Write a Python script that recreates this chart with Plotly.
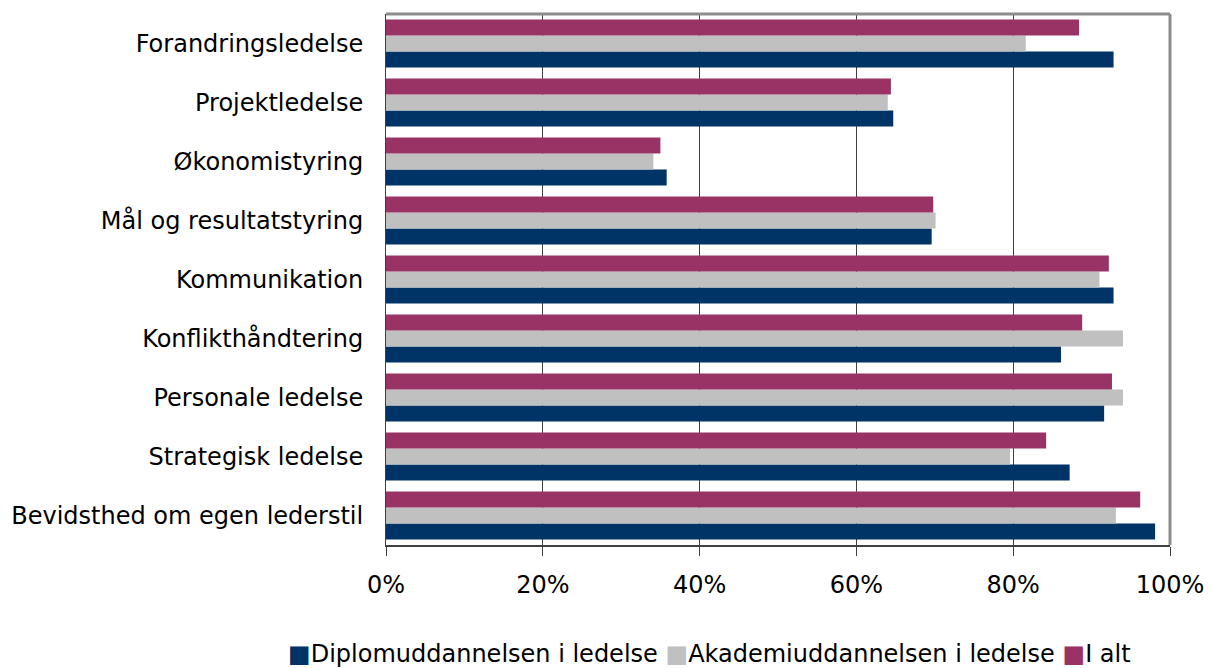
import plotly.graph_objects as go

# Categories listed bottom-to-top (as plotted on the category axis)
categories = [
    "Bevidsthed om egen lederstil",
    "Strategisk ledelse",
    "Personale ledelse",
    "Konflikthåndtering",
    "Kommunikation",
    "Mål og resultatstyring",
    "Økonomistyring",
    "Projektledelse",
    "Forandringsledelse",
]
diplom = [0.981, 0.872, 0.916, 0.861, 0.928, 0.696, 0.358, 0.647, 0.928]
akademi = [0.931, 0.796, 0.940, 0.940, 0.910, 0.701, 0.341, 0.640, 0.816]
i_alt = [0.962, 0.842, 0.926, 0.888, 0.922, 0.698, 0.350, 0.644, 0.884]

series_names = ["Diplomuddannelsen i ledelse", "Akademiuddannelsen i ledelse", "I alt"]
series_values = [diplom, akademi, i_alt]
series_colors = ["#003366", "#C0C0C0", "#993366"]
x_ticks = [0, 0.2, 0.4, 0.6, 0.8, 1.0]

fig = go.Figure()
for name, vals, color in zip(series_names, series_values, series_colors):
    fig.add_trace(go.Bar(
        y=categories, x=vals, name=name, orientation="h",
        marker=dict(color=color, line=dict(width=0)),
    ))

# Legend drawn as a single text line (compact, like the original)
legend_text = " ".join(
    f"<span style='color:{c}'>■</span>{n}" for n, c in zip(series_names, series_colors)
)

font_family = "DejaVu Sans, Verdana, sans-serif"
fig.update_layout(
    width=1212, height=668,
    barmode="group", bargap=0.185, bargroupgap=0,
    margin=dict(l=386, r=42, t=14, b=123),
    paper_bgcolor="white", plot_bgcolor="white",
    font=dict(family=font_family, size=24, color="#000000"),
    showlegend=False,
    xaxis=dict(
        range=[0, 1], tickvals=x_ticks, tickformat=".0%",
        showgrid=True, gridcolor="#404040", gridwidth=1,
        showline=True, linecolor="#404040", linewidth=2, mirror=False,
        ticks="outside", ticklen=9, tickcolor="#404040",
        tickfont=dict(size=24), zeroline=False, ticklabelstandoff=8,
        automargin=False,
    ),
    yaxis=dict(
        showline=True, linecolor="#404040", linewidth=1,
        ticks="", tickfont=dict(size=24), showgrid=False,
        ticklabelstandoff=17, automargin=False,
    ),
    shapes=[
        dict(type="line", xref="paper", yref="paper", x0=0, x1=1, y0=1, y1=1,
             line=dict(color="#8c8c8c", width=3)),
        dict(type="line", xref="paper", yref="paper", x0=1, x1=1, y0=0, y1=1,
             line=dict(color="#8c8c8c", width=3)),
    ],
    annotations=[
        dict(text=legend_text, xref="paper", yref="paper", x=0.413, y=-0.206,
             xanchor="center", yanchor="middle", showarrow=False,
             font=dict(size=24, family=font_family)),
    ],
)

fig.write_html(
    "out.html",
    config={"displayModeBar": False},
    post_script="document.body.style.margin='0px';document.body.style.overflow='hidden';",
)
